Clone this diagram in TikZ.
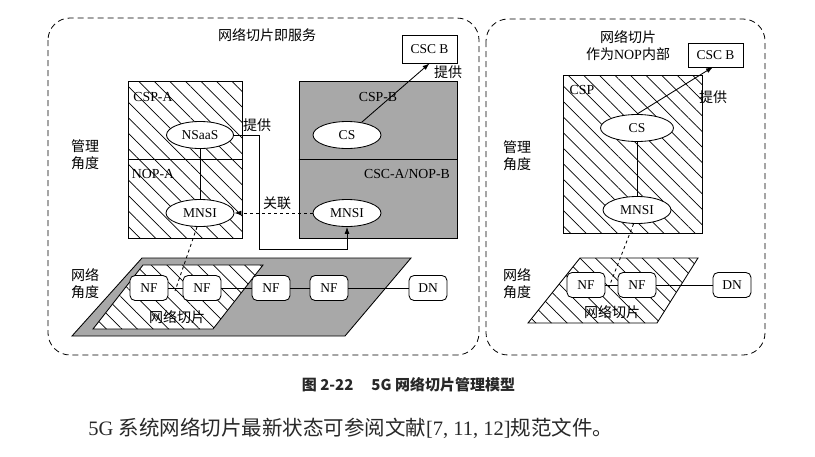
\documentclass[tikz,border=0pt]{standalone}
\usepackage{fontspec}
\setmainfont{Liberation Serif}
\newfontfamily\cjk{Noto Sans CJK SC}
\usetikzlibrary{shapes.geometric,patterns.meta,arrows.meta}
\definecolor{panelgray}{RGB}{168,168,168}
\definecolor{txtgray}{RGB}{40,40,40}
\begin{document}
\begin{tikzpicture}[x=1pt,y=-1pt,
  lbl/.style={font=\fontsize{13.8}{14}\selectfont, inner sep=0},
  cj/.style={font=\cjk\fontsize{14}{17}\selectfont, inner sep=0, align=center},
  ell/.style={draw, ellipse, fill=white, minimum width=68pt, minimum height=27pt, inner sep=0, font=\fontsize{13.5}{14}\selectfont},
  nf/.style={draw, rounded corners=5pt, fill=white, minimum width=38pt, minimum height=25pt, inner sep=0, font=\fontsize{13.5}{14}\selectfont},
  box/.style={draw, fill=white, inner sep=0, font=\fontsize{13.5}{14}\selectfont},
  panel/.style={draw, dash pattern=on 6pt off 4pt, rounded corners=22pt, line width=0.8pt},
  hatch/.style={preaction={fill=white}, pattern={Lines[angle=-45,distance=11pt,line width=0.7pt]}},
  arr/.style={-{Latex[length=7pt,width=5pt]}},
  line width=0.85pt
]
\useasboundingbox (0,0) rectangle (815,456);
\fill[white] (0,0) rectangle (815,456);

%% ---------------- left panel ----------------
\draw[panel] (48,18) rectangle (479,355);
\node[cj] (titleL) at (267,35) {网络切片即服务};
\node[box, minimum width=55pt, minimum height=28pt] (cscbL) at (429.5,49) {CSC B};
\node[cj] (tigongL1) at (448,72) {提供};

% boxes
\node[draw, hatch, minimum width=114pt, minimum height=157pt, inner sep=0] (cspA) at (185,159.5) {};
\node[draw, fill=panelgray, minimum width=158pt, minimum height=157pt, inner sep=0] (cspB) at (378,159.5) {};
\draw (cspA.west |- 0,159) -- (cspA.east |- 0,159);
\draw (cspB.west |- 0,159) -- (cspB.east |- 0,159);

\node[lbl] (lCSPA) at (153,97) {CSP-A};
\node[lbl] (lCSPB) at (378,97) {CSP-B};
\node[lbl] (lNOPA) at (153,174) {NOP-A};
\node[lbl] (lCSCA) at (407,174) {CSC-A/NOP-B};

\node[cj] (mgmtL) at (85,155) {管理\\角度};
\node[cj] (netL) at (85,283.5) {网络\\角度};

% network plane
\draw[fill=panelgray] (72,336) -- (345,336) -- (411,258) -- (142,258) -- cycle;
\draw[hatch] (93,329) -- (213,329) -- (263,265) -- (143,265) -- cycle;
\node[cj] (sliceL) at (177,317) {网络切片};

% ellipses
\node[ell, minimum width=67pt] (nsaas) at (200,135) {NSaaS};
\node[ell] (csB) at (347,135) {CS};
\node[ell] (mnsiA) at (200,213) {MNSI};
\node[ell] (mnsiB) at (347,213) {MNSI};

% NF chain
\node[nf] (nf1) at (149,288) {NF};
\node[nf] (nf2) at (202,288) {NF};
\node[nf] (nf3) at (271,288) {NF};
\node[nf] (nf4) at (329,288) {NF};
\node[nf] (dn1) at (428,288) {DN};
\draw (nf1) -- (nf2);
\draw (nf2) -- (nf3);
\draw (nf3) -- (nf4);
\draw (nf4) -- (dn1);

% connectors
\draw (nsaas) -- (mnsiA);
\coordinate (bendL) at (259,249);
\draw[arr] (nsaas.east) -| (bendL) -| (mnsiB.south);
\node[cj] (tigongL2) at (257,125) {提供};
\draw[arr] (csB) -- (cscbL.south);
\draw[dashed, arr] (mnsiB.west) -- (mnsiA.east);
\node[cj] (guanlian) at (277,203) {关联};
\coordinate (dashEndL) at (175,291);
\draw[dashed] (mnsiA.258) -- (dashEndL);

%% ---------------- right panel ----------------
\draw[panel] (486,19) rectangle (765,355);
\node[cj] (titleR) at (628,46) {网络切片\\作为{\rmfamily NOP}内部};
\node[box, minimum width=55pt, minimum height=24pt] (cscbR) at (715.5,55) {CSC B};
\node[draw, hatch, minimum width=139pt, minimum height=158pt, inner sep=0] (cspR) at (632.5,154) {};
\node[lbl] (lCSP) at (582,90) {CSP};
\node[cj] (tigongR) at (713,97) {提供};
\node[cj] (mgmtR) at (517,156) {管理\\角度};
\node[cj] (netR) at (517,283.5) {网络\\角度};

\draw[hatch] (528,323) -- (657,323) -- (698,258) -- (580,258) -- cycle;
\node[cj] (sliceR) at (612,312) {网络切片};

\node[ell, minimum width=73pt] (csR) at (637,128) {CS};
\node[ell] (mnsiR) at (637,210) {MNSI};
\draw (csR) -- (mnsiR);
\coordinate (cscbRin) at (713,67);
\draw[arr] (csR.north) -- (cscbRin);

\node[nf] (nf5) at (586,285) {NF};
\node[nf] (nf6) at (637,285) {NF};
\node[nf] (dn2) at (732,285) {DN};
\draw (nf5) -- (nf6);
\draw (nf6) -- (dn2);
\coordinate (dashEndR) at (609,287);
\draw[dashed] (mnsiR.256) -- (dashEndR);

%% ---------------- caption & body text ----------------
\node[font=\cjk\bfseries\fontsize{15}{15}\selectfont, text=txtgray, inner sep=0] (caption) at (408.5,385) {图 2-22\hspace{1.2em}5G 网络切片管理模型};
\node[anchor=west, font=\fontsize{20.5}{20.5}\selectfont, text=txtgray, inner sep=0] (body) at (88,428) {5G {\cjk 系统网络切片最新状态可参阅文献}[7, 11, 12]{\cjk 规范文件。}};
\end{tikzpicture}
\end{document}
